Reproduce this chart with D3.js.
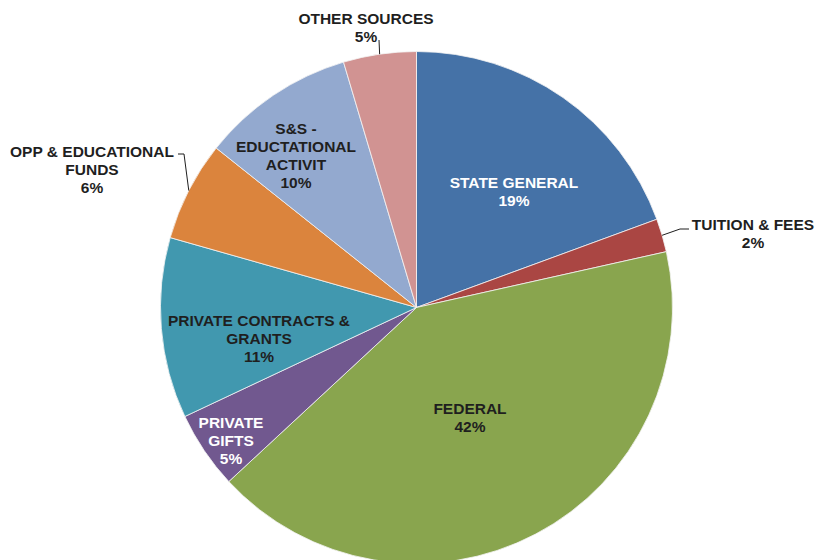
<!DOCTYPE html>
<html>
<head>
<meta charset="utf-8">
<script src="https://cdn.jsdelivr.net/npm/d3@7"></script>
<style>
  html, body { margin: 0; padding: 0; background: #ffffff; }
  svg { display: block; }
  text { font-family: "Liberation Sans", Arial, sans-serif; font-weight: bold; }
</style>
</head>
<body>
<svg id="chart" width="817" height="560"></svg>
<script>
// ---- Data ----
const categories = [
  "STATE GENERAL",
  "TUITION & FEES",
  "FEDERAL",
  "PRIVATE GIFTS",
  "PRIVATE CONTRACTS & GRANTS",
  "OPP & EDUCATIONAL FUNDS",
  "S&S - EDUCTATIONAL ACTIVIT",
  "OTHER SOURCES"
];
const values = [19.4, 2.1, 41.6, 4.9, 11.4, 6.3, 9.7, 4.6];
const percentLabels = ["19%", "2%", "42%", "5%", "11%", "6%", "10%", "5%"];
// label text broken into lines as in the picture
const labelLines = [
  ["STATE GENERAL"],
  ["TUITION & FEES"],
  ["FEDERAL"],
  ["PRIVATE", "GIFTS"],
  ["PRIVATE CONTRACTS &", "GRANTS"],
  ["OPP & EDUCATIONAL", "FUNDS"],
  ["S&S -", "EDUCTATIONAL", "ACTIVIT"],
  ["OTHER SOURCES"]
];

// ---- Style / layout ----
const colors = ["#4572A7", "#AA4643", "#89A54E", "#71588F", "#4198AF", "#DB843D", "#93A9CF", "#D19392"];
const textColors = ["#ffffff", "#1f1f1f", "#1f1f1f", "#ffffff", "#1f1f1f", "#1f1f1f", "#1f1f1f", "#1f1f1f"];
const cx = 416.5, cy = 307.5, radius = 256;
const fontSize = 15.5, lineH = 18;
// first-line baseline centre of each label, relative to the pie centre
const labelOffsets = [
  [97.5, -119.5], [336.5, -78], [53.5, 106], [-185.5, 120.5],
  [-157.5, 18], [-324.5, -150.2], [-120.5, -174], [-50.5, -283.5]
];
// leader lines: elbow points relative to centre (start point is the arc mid-point)
const leaders = {
  1: [[263.5, -78.5], [272.5, -78.5]],
  5: [[-232.5, -153.5], [-238.5, -153.5]],
  7: [[-37.5, -267.5]]
};

const svg = d3.select("#chart");
const g = svg.append("g").attr("transform", `translate(${cx},${cy})`);

const pie = d3.pie().sort(null).value(d => d)(values);
const arc = d3.arc().innerRadius(0).outerRadius(radius);

g.selectAll("path.slice")
  .data(pie)
  .join("path")
  .attr("class", "slice")
  .attr("d", arc)
  .attr("fill", (d, i) => colors[i])
  .attr("stroke", "#f4f4f4")
  .attr("stroke-width", 0.8);

// leader lines
Object.keys(leaders).forEach(k => {
  const i = +k;
  const d = pie[i];
  const mid = (d.startAngle + d.endAngle) / 2;
  const start = [Math.sin(mid) * radius, -Math.cos(mid) * radius];
  const pts = [start].concat(leaders[k]);
  g.append("path")
    .attr("d", d3.line()(pts))
    .attr("fill", "none")
    .attr("stroke", "#1f1f1f")
    .attr("stroke-width", 1);
});

// labels
pie.forEach((d, i) => {
  const lines = labelLines[i].concat([percentLabels[i]]);
  const t = g.append("text")
    .attr("text-anchor", "middle")
    .attr("font-size", fontSize)
    .attr("fill", textColors[i]);
  lines.forEach((ln, j) => {
    t.append("tspan")
      .attr("x", labelOffsets[i][0])
      .attr("y", labelOffsets[i][1] + j * lineH)
      .text(ln);
  });
});
</script>
</body>
</html>
